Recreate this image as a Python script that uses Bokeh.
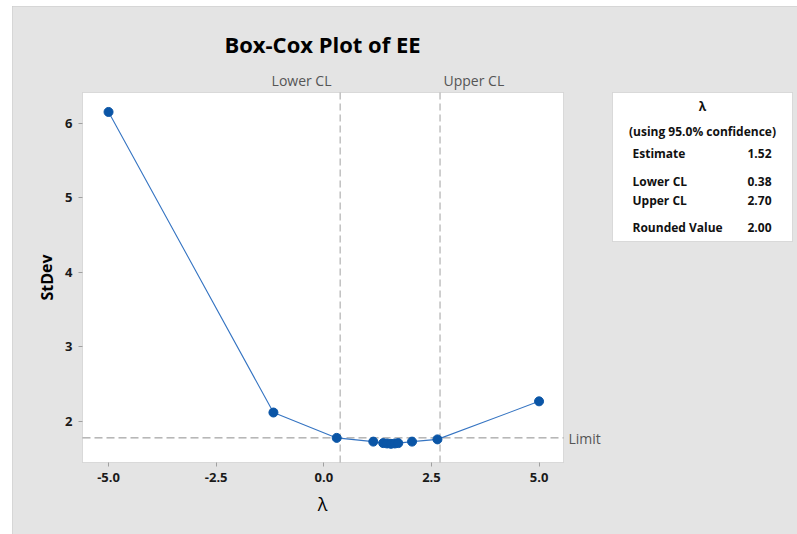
from bokeh.plotting import figure
from bokeh.models import (Range1d, Label, BoxAnnotation, FixedTicker,
                          CustomJSTickFormatter, LinearAxis)
from bokeh.embed import file_html
from bokeh.resources import INLINE

# ---- data ----
lam = [-5.0, -1.17, 0.30, 1.15, 1.38, 1.47, 1.56, 1.65, 1.73, 2.05, 2.64, 5.0]
stdev = [6.15, 2.12, 1.78, 1.73, 1.71, 1.705, 1.70, 1.705, 1.71, 1.73, 1.76, 2.27]
lower_cl = 0.38
upper_cl = 2.70
limit = 1.78
estimate = 1.52
rounded = 2.00
conf = 95.0
x_ticks = [-5.0, -2.5, 0.0, 2.5, 5.0]
y_ticks = [2, 3, 4, 5, 6]

# visible plot-area data limits
XMIN, XMAX = -5.605, 5.568
YMIN, YMAX = 1.450, 6.411

# page geometry (page pixels)
FIG_X, FIG_Y = 12, 6
W, H = 785, 528
FL, FT, FW, FH = 82, 92, 481, 370   # plot area on the page

# the Bokeh frame covers the whole canvas; extend ranges accordingly
kx = FW / (XMAX - XMIN)
ky = FH / (YMAX - YMIN)
RX0 = XMIN - (FL - FIG_X) / kx
RX1 = XMAX + (FIG_X + W - FL - FW) / kx
RY1 = YMAX + (FT - FIG_Y) / ky
RY0 = YMIN - (FIG_Y + H - FT - FH) / ky

p = figure(width=W, height=H, output_backend="svg", toolbar_location=None,
           x_range=Range1d(RX0, RX1), y_range=Range1d(RY0, RY1),
           x_axis_location=None, y_axis_location=None,
           min_border=0, min_border_left=0, min_border_right=0,
           min_border_top=0, min_border_bottom=0)
p.styles = {"margin-left": "%dpx" % FIG_X, "margin-top": "%dpx" % FIG_Y,
            "outline": "1px solid #c8c8c8", "outline-offset": "-1px"}
p.border_fill_color = "#e4e4e4"
p.background_fill_color = "#e4e4e4"
p.outline_line_color = None
p.grid.visible = False

# white plot area
p.add_layout(BoxAnnotation(left=XMIN, right=XMAX, bottom=YMIN, top=YMAX,
                           fill_color="white", fill_alpha=1.0,
                           line_color="#a0a0a0", line_width=1, level="underlay"))

# axes
xax = LinearAxis(fixed_location=YMIN, bounds=(XMIN, XMAX))
yax = LinearAxis(fixed_location=XMIN, bounds=(YMIN, YMAX))
for ax in (xax, yax):
    ax.axis_line_color = None
    ax.major_tick_line_color = "#a0a0a0"
    ax.major_tick_out = 4
    ax.major_tick_in = 0
    ax.minor_tick_line_color = None
    ax.major_label_text_font = "Open Sans"
    ax.major_label_text_font_style = "bold"
    ax.major_label_text_font_size = "13px"
    ax.major_label_text_color = "#1a1a1a"
    ax.major_label_standoff = 6
xax.ticker = FixedTicker(ticks=x_ticks)
yax.ticker = FixedTicker(ticks=y_ticks)
xax.formatter = CustomJSTickFormatter(code="return tick.toFixed(1);")
yax.formatter = CustomJSTickFormatter(code="return tick.toFixed(0);")
p.add_layout(xax, "below")
p.add_layout(yax, "left")

# reference lines (limited to the plot area)
p.segment(x0=[lower_cl, upper_cl], y0=[YMIN, YMIN], x1=[lower_cl, upper_cl], y1=[YMAX, YMAX],
          line_color="#b0b0b0", line_width=1.2, line_dash="7 4")
p.segment(x0=[XMIN], y0=[limit], x1=[XMAX], y1=[limit],
          line_color="#8c8c8c", line_width=1, line_dash="8 4")

# data
p.line(lam, stdev, line_color="#3574c2", line_width=1.1)
p.scatter(lam, stdev, size=9, fill_color="#0a55a6", line_color="#0a55a6")

# texts, positioned in page pixels (screen units are relative to the frame = canvas)
def lab(px, py, text, size, align="left", color="#000000", style="normal",
        angle=0.0, font="Open Sans"):
    p.add_layout(Label(x=px - FIG_X, y=FIG_Y + H - py, x_units="screen", y_units="screen",
                       text=text, text_font=font,
                       text_font_size=size, text_align=align, text_baseline="middle",
                       text_color=color, text_font_style=style, angle=angle))

GRAY = "#555555"
lab(322, 43, "Box-Cox Plot of EE", "22px", "center", "#000000", "bold")
lab(331, 80, "Lower CL", "14px", "right", GRAY)
lab(443, 80, "Upper CL", "14px", "left", GRAY)
lab(568, 438, "Limit", "14px", "left", GRAY)
lab(46, 277, "StDev", "16px", "center", "#000000", "bold", angle=1.5708)
lab(322, 503, "λ", "18px", "center", "#000000")

# info box
def BX(px):
    return XMIN + (px - FL) / kx

def BY(py):
    return YMAX - (py - FT) / ky

p.add_layout(BoxAnnotation(left=BX(612), right=BX(792), top=BY(92), bottom=BY(241),
                           fill_color="white", fill_alpha=1.0,
                           line_color="#a0a0a0", line_width=1, level="underlay"))
lab(702, 106, "λ", "12px", "center", "#111111", "bold")
lab(702, 131, "(using %.1f%% confidence)" % conf, "12px", "center", "#111111", "bold")
rows = [("Estimate", estimate, 153), ("Lower CL", lower_cl, 181),
        ("Upper CL", upper_cl, 200), ("Rounded Value", rounded, 227)]
for name, val, py in rows:
    lab(632, py, name, "12px", "left", "#111111", "bold")
    lab(771, py, "%.2f" % val, "12px", "right", "#111111", "bold")

open("out.html", "w").write(file_html(p, INLINE))
